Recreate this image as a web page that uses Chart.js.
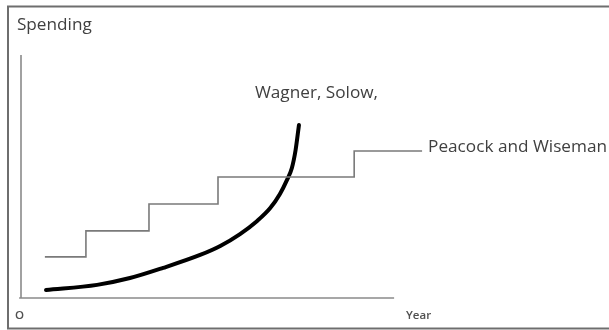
<!DOCTYPE html>
<html>
<head>
<meta charset="utf-8">
<script src="https://cdn.jsdelivr.net/npm/chart.js@4.4.1/dist/chart.umd.min.js"></script>
<style>
  html, body { margin: 0; padding: 0; background: #fff; }
  #wrap { width: 609px; height: 330px; }
</style>
</head>
<body>
<div id="wrap"><canvas id="chart" width="609" height="330"></canvas></div>
<script>
// --- values (axes run 0..100 in both directions) ---
const peacockX = [6.4, 17.4, 34.3, 52.8, 89.3, 107.5];
const peacockY = [16.9, 27.6, 38.7, 49.8, 60.5, 60.5];

const wagnerX = [6.7, 20.4, 29.2, 38.1, 48.0, 53.4, 58.7, 63.3, 66.8, 69.4, 71.3, 72.6, 73.6, 74.5];
const wagnerY = [3.3, 5.4, 8.2, 12.4, 17.7, 21.4, 26.3, 31.7, 37.0, 42.8, 48.6, 53.5, 60.9, 71.2];

const xAxisX = [-0.5, 100];
const xAxisY = [0, 0];
const yAxisX = [0, 0];
const yAxisY = [0, 100];

// text labels: [text, x, y, align]
const textLabels = [
    ['Spending', -1.1, 112.3, 'left'],
    ['O', -0.4, -7.4, 'center'],
    ['Year', 103.2, -7.4, 'left'],
    ['Wagner, Solow,', 62.7, 84.4, 'left'],
    ['Peacock and Wiseman', 109.1, 62.1, 'left']
];

function toPoints(xs, ys) {
    return xs.map((x, i) => ({ x: x, y: ys[i] }));
}

// --- frame and text drawn on the canvas ---
const annotate = {
    id: 'annotate',
    beforeDraw(chart) {
        const ctx = chart.ctx;
        ctx.save();
        ctx.fillStyle = '#fff';
        ctx.fillRect(0, 0, chart.width, chart.height);
        ctx.strokeStyle = '#6e6e6e';
        ctx.lineWidth = 2;
        ctx.strokeRect(8, 6.5, 700, 322);
        ctx.restore();
    },
    afterDraw(chart) {
        const ctx = chart.ctx;
        const xs = chart.scales.x, ys = chart.scales.y;
        ctx.save();
        ctx.textBaseline = 'middle';
        textLabels.forEach(t => {
            const small = (t[0] === 'O' || t[0] === 'Year');
            ctx.font = small ? '600 11.5px "Open Sans"' : '17.2px "Open Sans"';
            ctx.fillStyle = small ? '#505050' : '#404040';
            ctx.textAlign = t[3];
            ctx.fillText(t[0], xs.getPixelForValue(t[1]), ys.getPixelForValue(t[2]));
        });
        ctx.restore();
    }
};

new Chart(document.getElementById('chart').getContext('2d'), {
    type: 'line',
    data: {
        datasets: [
            {
                label: 'x axis',
                data: toPoints(xAxisX, xAxisY),
                borderColor: '#8a8a8a',
                borderWidth: 1.6,
                pointRadius: 0
            },
            {
                label: 'y axis',
                data: toPoints(yAxisX, yAxisY),
                borderColor: '#8a8a8a',
                borderWidth: 1.6,
                pointRadius: 0
            },
            {
                label: 'Peacock and Wiseman',
                data: toPoints(peacockX, peacockY),
                borderColor: '#7a7a7a',
                borderWidth: 1.6,
                stepped: 'before',
                pointRadius: 0
            },
            {
                label: 'Wagner, Solow,',
                data: toPoints(wagnerX, wagnerY),
                borderColor: '#000',
                borderWidth: 4,
                cubicInterpolationMode: 'monotone',
                borderCapStyle: 'round',
                pointRadius: 0
            }
        ]
    },
    options: {
        responsive: false,
        animation: false,
        layout: { padding: 0 },
        plugins: { legend: { display: false }, tooltip: { enabled: false } },
        scales: {
            x: { type: 'linear', display: false, min: -5.63, max: 157.6 },
            y: { type: 'linear', display: false, min: -13.17, max: 122.6 }
        }
    },
    plugins: [annotate]
});
</script>
</body>
</html>
